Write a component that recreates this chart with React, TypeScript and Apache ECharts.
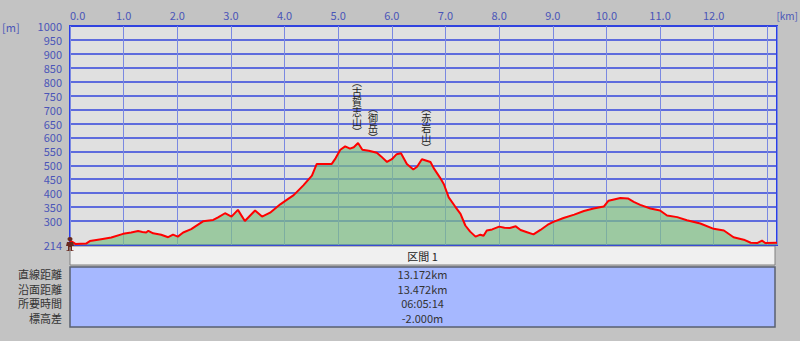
import React, { useEffect, useRef } from "react";
import * as echarts from "echarts";

// ---- data ----
const distanceKm = [
  0.0, 0.05, 0.1, 0.3, 0.37, 0.58, 0.77, 0.99, 1.14, 1.27, 1.35, 1.42, 1.46, 1.55, 1.7, 1.83, 1.92, 2.01,
  2.11, 2.26, 2.33, 2.48, 2.67, 2.76, 2.89, 3.01, 3.13, 3.26, 3.45, 3.58, 3.73, 3.92, 4.04, 4.17, 4.35,
  4.51, 4.6, 4.73, 4.88, 4.95, 5.04, 5.13, 5.22, 5.29, 5.37, 5.45, 5.57, 5.72, 5.8, 5.91, 6.0, 6.09, 6.17,
  6.28, 6.4, 6.47, 6.56, 6.72, 6.78, 6.9, 6.97, 7.06, 7.18, 7.28, 7.37, 7.46, 7.56, 7.65, 7.71, 7.77, 7.87,
  8.0, 8.1, 8.2, 8.31, 8.4, 8.52, 8.64, 8.77, 8.9, 9.0, 9.2, 9.4, 9.58, 9.76, 9.95, 10.04, 10.26, 10.4,
  10.51, 10.63, 10.82, 11.0, 11.13, 11.32, 11.5, 11.75, 12.0, 12.19, 12.37, 12.56, 12.69, 12.81, 12.9,
  12.96, 13.18,
];
const elevationM = [
  230, 224, 218, 219, 228, 235, 241, 254, 259, 264, 261, 259, 265, 256, 251, 242, 251, 244,
  259, 271, 280, 299, 304, 313, 328, 316, 340, 300, 338, 316, 330, 360, 376, 393, 428,
  463, 505, 505, 505, 525, 556, 568, 560, 565, 580, 556, 552, 545, 532, 512, 522, 540, 543,
  505, 485, 495, 522, 512, 490, 455, 432, 385, 352, 326, 284, 262, 244, 251, 247, 266, 270,
  280, 276, 275, 281, 268, 260, 252, 268, 286, 296, 311, 323, 336, 345, 352, 373, 383, 381,
  369, 358, 345, 338, 320, 314, 303, 291, 272, 266, 242, 233, 222, 221, 230,
  221, 222,
];
const xMaxKm = 13.18;
const yMin = 214;
const yMax = 1000;
const yTickValues = [214, 300, 350, 400, 450, 500, 550, 600, 650, 700, 750, 800, 850, 900, 950, 1000];
const xLastLabelKm = 12;
const xUnit = "[km]";
const yUnit = "[m]";

const peakNames = ["古賀志山", "御岳", "赤岩山"];
const peakLabelKm = [5.35, 5.65, 6.64];
const peakLabelElev = [601, 579, 544];

const sectionTitle = "区間 1";
const rowLabels = ["直線距離", "沿面距離", "所要時間", "標高差"];
const rowValues = ["13.172km", "13.472km", "06:05:14", "-2.000m"];

const FONT = '"Noto Sans CJK JP", "Noto Sans", sans-serif';

function verticalText(name: string): string {
  return ["︵", ...name.split(""), "︶"].join("\n");
}

export default function App() {
  const ref = useRef<HTMLDivElement>(null);

  useEffect(() => {
    document.body.style.margin = "0";
    if (!ref.current) return;
    const chart = echarts.init(ref.current, null, { renderer: "svg" });

    const gridLeft = 70;
    const gridRight = 23;
    const gridTop = 26;
    const gridBottom = 96;
    const tableX = 70;
    const tableW = 705;
    const rowYs = [274, 289, 303, 318];

    const graphic: any[] = [
      {
        type: "text",
        left: 2,
        top: 21,
        style: { text: yUnit, fill: "#4a55b8", font: `11px ${FONT}` },
      },
      {
        type: "text",
        x: 798,
        y: 15,
        style: { text: xUnit, fill: "#4a55b8", font: `10px ${FONT}`, align: "right", verticalAlign: "middle" },
      },
      {
        type: "rect",
        shape: { x: tableX, y: 246, width: tableW, height: 19 },
        style: { fill: "#f0f0f0", stroke: "#808080", lineWidth: 1 },
      },
      {
        type: "rect",
        shape: { x: tableX, y: 267, width: tableW, height: 60 },
        style: { fill: "#a6b8ff", stroke: "#5a6070", lineWidth: 1.5 },
      },
      {
        type: "text",
        x: tableX + tableW / 2,
        y: 256,
        style: {
          text: sectionTitle,
          fill: "#222",
          font: `11px ${FONT}`,
          align: "center",
          verticalAlign: "middle",
        },
      },
    ];
    rowLabels.forEach((lab, i) => {
      graphic.push({
        type: "text",
        x: 62,
        y: rowYs[i],
        style: { text: lab, fill: "#333", font: `11px ${FONT}`, align: "right", verticalAlign: "middle" },
      });
      graphic.push({
        type: "text",
        x: tableX + tableW / 2,
        y: rowYs[i],
        style: {
          text: rowValues[i],
          fill: "#333",
          font: `11px ${FONT}`,
          align: "center",
          verticalAlign: "middle",
        },
      });
    });

    const option: any = {
      animation: false,
      backgroundColor: "#c3c3c3",
      grid: {
        left: gridLeft,
        right: gridRight,
        top: gridTop,
        bottom: gridBottom,
        show: true,
        backgroundColor: "#e0e0e0",
        borderColor: "#2a3ee8",
        borderWidth: 2,
      },
      xAxis: {
        type: "value",
        position: "top",
        min: 0,
        max: xMaxKm,
        interval: 1,
        axisLine: { show: false },
        axisTick: { show: false },
        axisLabel: {
          color: "#4a55b8",
          fontFamily: FONT,
          fontSize: 11,
          margin: 6,
          alignMinLabel: "left",
          showMaxLabel: false,
          formatter: (v: number) => (v > xLastLabelKm + 0.5 ? "" : v.toFixed(1)),
        },
        splitLine: { show: true, lineStyle: { color: "#7a88e2", width: 1 } },
      },
      yAxis: {
        type: "value",
        min: yMin,
        max: yMax,
        axisLine: { show: false },
        axisTick: { show: false, customValues: yTickValues },
        axisLabel: {
          color: "#4a55b8",
          fontFamily: FONT,
          fontSize: 11,
          margin: 8,
          customValues: yTickValues,
          formatter: (v: number) => String(v),
        },
        splitLine: { show: true, lineStyle: { color: "#3344dd", width: 1.5 } },
      },
      series: [
        {
          type: "line",
          data: distanceKm.map((d, i) => [d, elevationM[i]]),
          symbol: "none",
          lineStyle: { color: "#ff0000", width: 2 },
          areaStyle: { color: "#7fbf86", opacity: 0.7, origin: "start" },
          markPoint: {
            silent: true,
            data: [
              ...peakNames.map((n, i) => ({
                name: n,
                coord: [peakLabelKm[i], peakLabelElev[i]],
                symbol: "circle",
                symbolSize: 1,
                itemStyle: { color: "rgba(0,0,0,0)" },
                label: {
                  show: true,
                  position: "top",
                  distance: 0,
                  formatter: (p: any) => verticalText(p.name),
                  fontSize: 10,
                  lineHeight: 10,
                  fontFamily: FONT,
                  color: "#222",
                  align: "center",
                },
              })),
              {
                name: "start",
                coord: [distanceKm[0], yMin],
                symbol:
                  "path://M4,0 C5.5,0 6.5,1 6.5,2.5 C6.5,4 5.5,5 4,5 C2.5,5 1.5,4 1.5,2.5 C1.5,1 2.5,0 4,0 Z M1,6 L7,6 L8,11 L6,11 L6,16 L7.5,16 L7.5,17 L4.5,17 L4.5,12 L3.5,12 L3.5,17 L0.5,17 L0.5,16 L2,16 L2,11 L0,11 Z",
                symbolSize: [8, 14],
                symbolOffset: [0, -1],
                itemStyle: { color: "#6a2a20" },
                label: { show: false },
              },
            ],
          },
        },
      ],
      graphic,
    };

    chart.setOption(option);
    return () => chart.dispose();
  }, []);

  return <div ref={ref} style={{ width: 800, height: 341 }} />;
}
